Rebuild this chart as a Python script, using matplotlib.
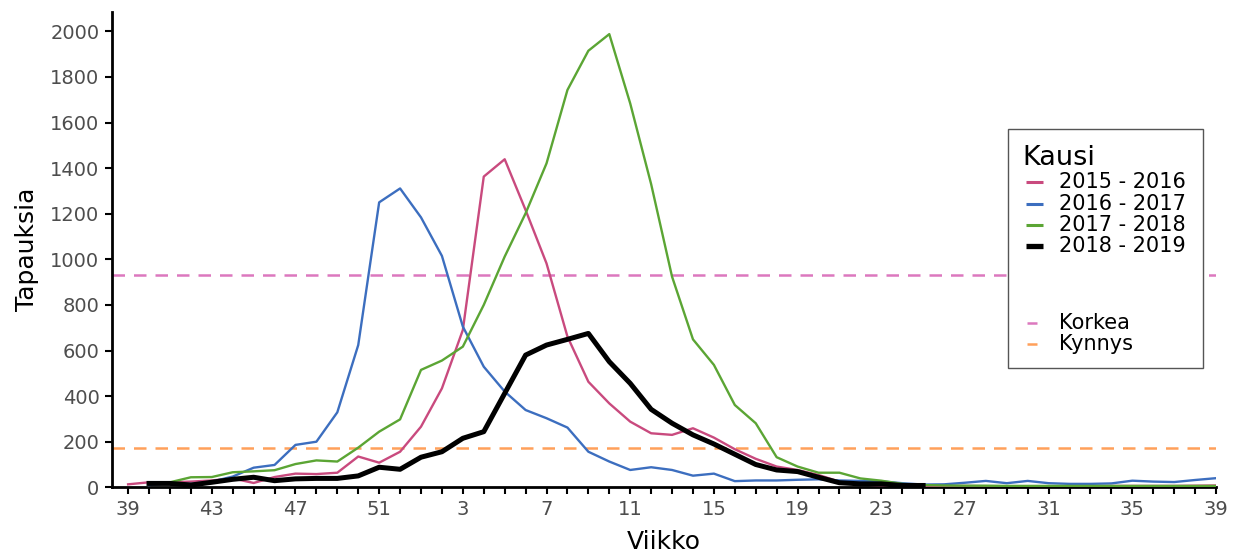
import numpy as np
import matplotlib
matplotlib.use("Agg")
import matplotlib.pyplot as plt
from matplotlib.lines import Line2D
from matplotlib.patches import Rectangle

plt.rcParams['font.family'] = ['DejaVu Sans']

# x positions: season weeks 39..52, 1..39
week_labels = [str(w) for w in list(range(39, 53)) + list(range(1, 40))]
tick_weeks = ['39', '43', '47', '51', '3', '7', '11', '15', '19', '23', '27', '31', '35', '39']

s2015 = [13, 22, 22, 25, 30, 39, 19, 45, 60, 58, 64, 135, 108, 156, 266, 434,
         690, 1363, 1439, 1216, 982, 661, 463, 368, 288, 237, 230, 259, 218, 167,
         125, 91, 76, 54, 25, 12, 9, 8, 7, 6, 6, 5, 5, 5, 5, 5, 5, 6, 6, 6, 6, 7, 8]
s2016 = [None, 10, 18, 15, 25, 47, 86, 98, 186, 200, 329, 624, 1250, 1311, 1184, 1015,
         705, 529, 420, 339, 303, 262, 156, 113, 76, 88, 76, 51, 60, 27,
         30, 30, 33, 35, 30, 28, 26, 18, 12, 13, 20, 28, 18, 28, 18, 15, 15, 17, 29, 25,
         23, 32, 40]
s2017 = [None, 15, 22, 44, 45, 66, 70, 75, 102, 118, 113, 174, 244, 298, 515, 556,
         617, 800, 1012, 1202, 1421, 1743, 1915, 1988, 1684, 1330, 924, 649, 537, 361,
         281, 132, 91, 64, 64, 39, 29, 15, 10, 8, 7, 7, 6, 6, 6, 6, 6, 6, 6, 6, 6, 6, 6]
s2018 = [None, 17, 17, 10, 22, 35, 44, 29, 37, 39, 39, 50, 88, 79, 132, 156,
         215, 244, 412, 580, 624, 649, 675, 551, 456, 342, 281, 230, 190, 145,
         100, 76, 69, 44, 20, 15, 15, 8, 8]
korkea = 930
kynnys = 174

seasons = ['2015 - 2016', '2016 - 2017', '2017 - 2018', '2018 - 2019']
colors = ['#C94A7E', '#3C6EBF', '#5BA534', '#000000']
widths = [1.7, 1.7, 1.7, 3.6]
series = [s2015, s2016, s2017, s2018]

W, H = 1238, 556
fig = plt.figure(figsize=(W / 100, H / 100), dpi=100)
ax = fig.add_axes([112 / W, 1 - 487.3 / H, (1216 - 112) / W, (487.3 - 12) / H])

x_all = np.arange(len(week_labels))
ax.axhline(korkea, color='#DC78BE', lw=1.8, ls=(0, (5.0, 3.6)), zorder=1)
ax.axhline(kynnys, color='#FFA05A', lw=1.8, ls=(0, (5.0, 3.6)), zorder=1)

for vals, c, lw in zip(series, colors, widths):
    v = np.array([np.nan if a is None else a for a in vals], dtype=float)
    ax.plot(x_all[:len(v)], v, color=c, lw=lw, zorder=3, solid_joinstyle='round')

ax.set_xlim(-0.77, 52)
ax.set_ylim(0, 2085)
tick_pos = [i for i in range(0, len(week_labels), 4)]
ax.set_xticks(tick_pos)
ax.set_xticklabels(tick_weeks)
ax.set_xticks(range(len(week_labels)), minor=True)
ax.set_yticks(np.arange(0, 2001, 200))

for s in ['top', 'right']:
    ax.spines[s].set_visible(False)
for s in ['left', 'bottom']:
    ax.spines[s].set_linewidth(2.0)
ax.tick_params(axis='both', which='major', length=5, width=1.5, labelsize=14,
               labelcolor='#4D4D4D', pad=4)
ax.tick_params(axis='x', which='minor', length=5, width=1.5)
ax.set_xlabel('Viikko', fontsize=18, labelpad=8)
ax.set_ylabel('Tapauksia', fontsize=18, labelpad=8)

# Manual legend (pixel coordinates)
def fx(px):
    return px / W

def fy(py):
    return 1 - py / H

tf = fig.transFigure
box = Rectangle((fx(1008), fy(368)), fx(1203) - fx(1008), fy(129) - fy(368),
                transform=tf, facecolor='white', edgecolor='#555555', lw=1.0, zorder=10)
fig.add_artist(box)
fig.text(fx(1022), fy(158), 'Kausi', fontsize=19.5, va='center', ha='left', zorder=11)
rows = [181.7, 204, 225, 245.7]
leg_lw = [2.2, 2.2, 2.2, 3.8]
for r, lab, c, lw in zip(rows, seasons, colors, leg_lw):
    fig.add_artist(Line2D([fx(1026), fx(1043)], [fy(r), fy(r)], color=c, lw=lw,
                          transform=tf, zorder=11, solid_capstyle='butt'))
    fig.text(fx(1059), fy(r), lab, fontsize=15, va='center', ha='left', zorder=11)
for r, lab, c in zip([322.7, 344.3], ['Korkea', 'Kynnys'], ['#DC78BE', '#FFA05A']):
    fig.add_artist(Line2D([fx(1027), fx(1037)], [fy(r), fy(r)], color=c, lw=1.8,
                          transform=tf, zorder=11, solid_capstyle='butt'))
    fig.text(fx(1059), fy(r), lab, fontsize=15, va='center', ha='left', zorder=11)

fig.savefig('out.png', dpi=100)
